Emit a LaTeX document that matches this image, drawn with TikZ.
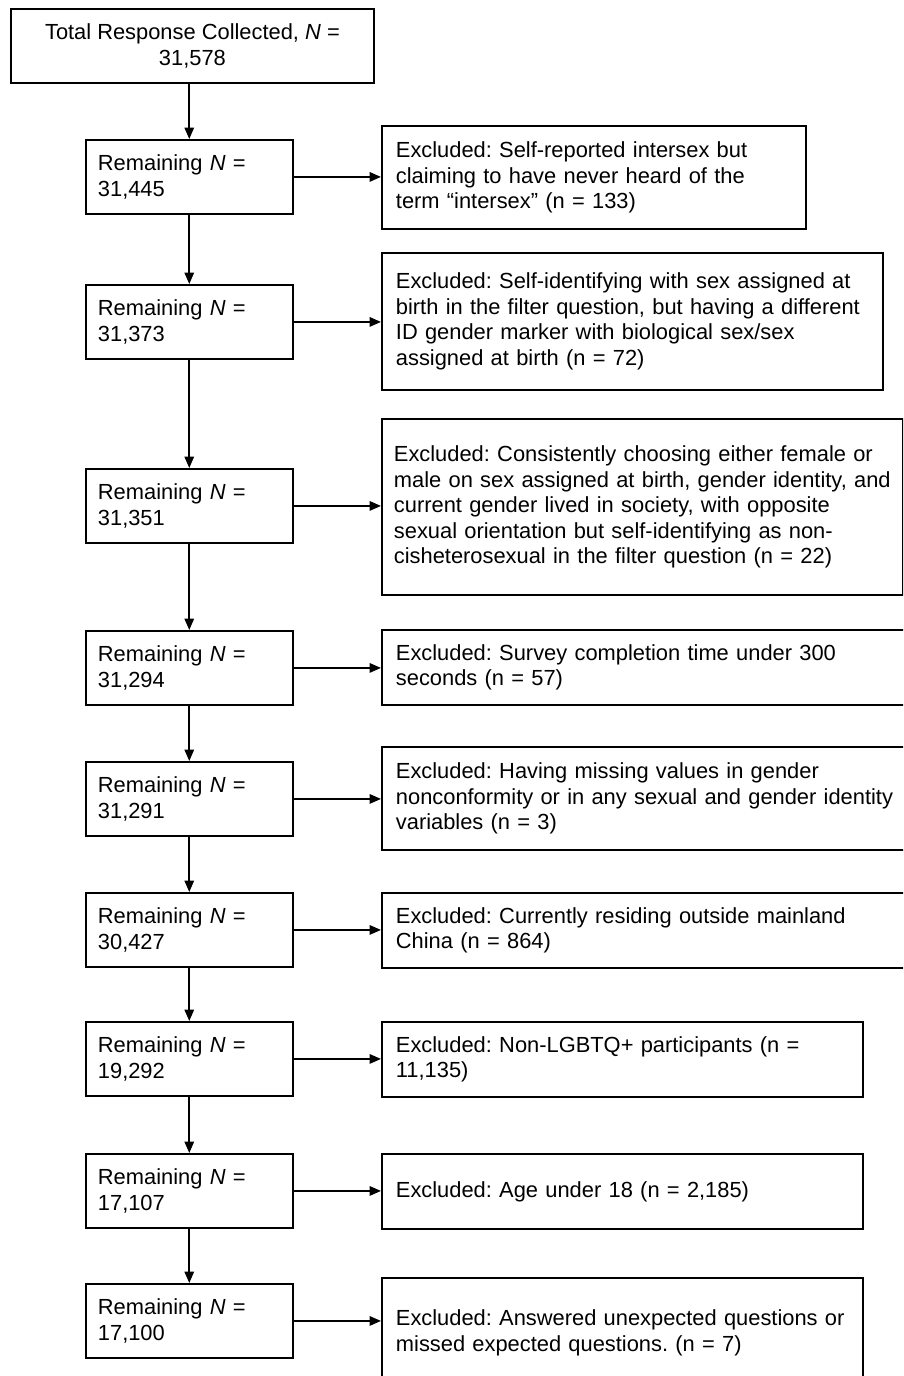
\documentclass[tikz,border=0pt]{standalone}
\usepackage{fontspec}
\setmainfont{Liberation Sans}
\usepackage{tikz}
\usetikzlibrary{arrows.meta}
\frenchspacing
\tikzset{
    % box for the sample still kept
    keepbox/.style={
        draw, line width=1.4pt, anchor=north west, align=left,
        inner xsep=9pt, text width=137pt, minimum height=55.5pt,
        font=\fontsize{16.4pt}{19.1pt}\selectfont
    },
    % box for the excluded responses
    dropbox/.style={
        draw, line width=1.4pt, anchor=north west, align=left,
        inner xsep=10.5pt,
        font=\fontsize{16.4pt}{19.1pt}\selectfont
    },
    flowarrow/.style={
        line width=1.4pt,
        black,
        -{Triangle[length=8.5pt, width=7pt]}
    }
}

\begin{document}
\begin{tikzpicture}[x=0.75pt, y=-0.75pt]
	\useasboundingbox (0,0) rectangle (903,1376);
	\clip (0,0) rectangle (903,1376);

	\node [draw, line width=1.4pt, anchor=north west, align=center, minimum width=272.25pt, minimum height=55.5pt, font=\fontsize{16.4pt}{19.1pt}\selectfont] (total) at (10,8) {Total Response Collected, \textit{N} =\\31,578};

	\node [keepbox] (r1) at (85,139) {Remaining \textit{N} =\\31,445};
	\node [keepbox] (r2) at (85,284) {Remaining \textit{N} =\\31,373};
	\node [keepbox] (r3) at (85,468) {Remaining \textit{N} =\\31,351};
	\node [keepbox] (r4) at (85,630) {Remaining \textit{N} =\\31,294};
	\node [keepbox] (r5) at (85,761) {Remaining \textit{N} =\\31,291};
	\node [keepbox] (r6) at (85,892) {Remaining \textit{N} =\\30,427};
	\node [keepbox] (r7) at (85,1021) {Remaining \textit{N} =\\19,292};
	\node [keepbox] (r8) at (85,1153) {Remaining \textit{N} =\\17,107};
	\node [keepbox] (r9) at (85,1283) {Remaining \textit{N} =\\17,100};

	\node [dropbox, text width=297pt, minimum height=77.25pt] (x1) at (381,125) {Excluded: Self-reported intersex but\\claiming to have never heard of the\\term ``intersex'' (n = 133)};
	\node [dropbox, text width=354.75pt, minimum height=102.75pt] (x2) at (381,252) {Excluded: Self-identifying with sex assigned at\\birth in the filter question, but having a different\\ID gender marker with biological sex/sex\\assigned at birth (n = 72)};
	\node [dropbox, inner xsep=9pt, text width=372.75pt, minimum height=132pt] (x3) at (381,418) {Excluded: Consistently choosing either female or\\male on sex assigned at birth, gender identity, and\\current gender lived in society, with opposite\\sexual orientation but self-identifying as non-\\cisheterosexual in the filter question (n = 22)};
	\node [dropbox, text width=376.5pt, minimum height=56.25pt] (x4) at (381,629) {Excluded: Survey completion time under 300\\seconds (n = 57)};
	\node [dropbox, text width=376.5pt, minimum height=77.25pt] (x5) at (381,746) {Excluded: Having missing values in gender\\nonconformity or in any sexual and gender identity\\variables (n = 3)};
	\node [dropbox, text width=376.5pt, minimum height=56.25pt] (x6) at (381,892) {Excluded: Currently residing outside mainland\\China (n = 864)};
	\node [dropbox, text width=339.75pt, minimum height=56.25pt] (x7) at (381,1021) {Excluded: Non-LGBTQ+ participants (n =\\11,135)};
	\node [dropbox, text width=339.75pt, minimum height=56.25pt] (x8) at (381,1153) {Excluded: Age under 18 (n = 2,185)};
	\node [dropbox, text width=339.75pt, minimum height=82.5pt] (x9) at (381,1277) {Excluded: Answered unexpected questions or\\missed expected questions. (n = 7)};

	\draw [flowarrow] (total.south -| r1.north) -- (r1.north);
	\draw [flowarrow] (r1.south) -- (r2.north);
	\draw [flowarrow] (r2.south) -- (r3.north);
	\draw [flowarrow] (r3.south) -- (r4.north);
	\draw [flowarrow] (r4.south) -- (r5.north);
	\draw [flowarrow] (r5.south) -- (r6.north);
	\draw [flowarrow] (r6.south) -- (r7.north);
	\draw [flowarrow] (r7.south) -- (r8.north);
	\draw [flowarrow] (r8.south) -- (r9.north);

	\draw [flowarrow] (r1.east) -- (r1.east -| x1.west);
	\draw [flowarrow] (r2.east) -- (r2.east -| x2.west);
	\draw [flowarrow] (r3.east) -- (r3.east -| x3.west);
	\draw [flowarrow] (r4.east) -- (r4.east -| x4.west);
	\draw [flowarrow] (r5.east) -- (r5.east -| x5.west);
	\draw [flowarrow] (r6.east) -- (r6.east -| x6.west);
	\draw [flowarrow] (r7.east) -- (r7.east -| x7.west);
	\draw [flowarrow] (r8.east) -- (r8.east -| x8.west);
	\draw [flowarrow] (r9.east) -- (r9.east -| x9.west);
\end{tikzpicture}
\end{document}
